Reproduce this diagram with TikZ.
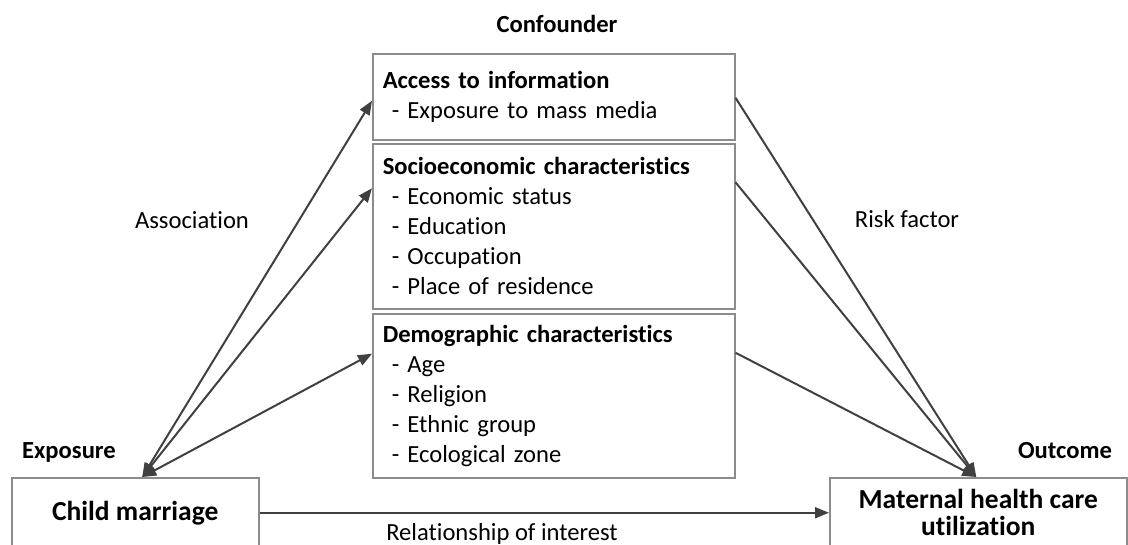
\documentclass[tikz,border=0pt]{standalone}
\usepackage{fontspec}
\setmainfont{Carlito}[Ligatures=NoCommon]
\usetikzlibrary{arrows.meta}

\definecolor{linegray}{HTML}{404040}
\definecolor{boxgray}{HTML}{8C8C8C}

\tikzset{
    factorbox/.style={draw=boxgray, line width=1.5pt, rectangle, anchor=north west,
        align=left, text width=342pt, inner xsep=10pt, inner ysep=0pt},
    endbox/.style={draw=boxgray, line width=1.5pt, rectangle, anchor=north west,
        align=center, minimum height=70pt, font=\fontsize{27.5}{27}\selectfont\bfseries},
    link/.style={draw=linegray, line width=2pt, >={Triangle[length=14pt, width=11pt]}},
    tag/.style={anchor=base, inner sep=0pt}
}

\begin{document}
\begin{tikzpicture}[x=1pt, y=-1pt, font=\fontsize{24.6}{30}\selectfont]
    % Fix the frame of the picture
    \useasboundingbox (0,0) rectangle (1128,544);
    \clip (0,0) rectangle (1128,544);

    % Confounder boxes
    \node[factorbox, minimum height=86pt] (access) at (372,53)
        {\textbf{Access to information}\\
         \hspace*{9pt}- Exposure to mass media};
    \node[factorbox, minimum height=165pt] (socio) at (372,143)
        {\textbf{Socioeconomic characteristics}\\
         \hspace*{9pt}- Economic status\\
         \hspace*{9pt}- Education\\
         \hspace*{9pt}- Occupation\\
         \hspace*{9pt}- Place of residence};
    \node[factorbox, minimum height=164pt] (demo) at (372,313)
        {\textbf{Demographic characteristics}\\
         \hspace*{9pt}- Age\\
         \hspace*{9pt}- Religion\\
         \hspace*{9pt}- Ethnic group\\
         \hspace*{9pt}- Ecological zone};

    % Exposure and outcome boxes
    \node[endbox, minimum width=247pt] (child) at (11,477) {Child marriage};
    \node[endbox, minimum width=297pt] (maternal) at (829,477) {Maternal health care\\utilization};

    % Labels
    \node[tag, font=\fontsize{24.6}{30}\selectfont\bfseries] (confounder) at (557,32) {Confounder};
    \node[tag, font=\fontsize{24.6}{30}\selectfont\bfseries] (exposure) at (69,458) {Exposure};
    \node[tag, font=\fontsize{24.6}{30}\selectfont\bfseries] (outcome) at (1065,458) {Outcome};
    \node[tag] (association) at (192,228) {Association};
    \node[tag] (risk) at (907,227) {Risk factor};
    \node[tag] (interest) at (502,540) {Relationship of interest};

    % Draw association arrows
    \draw[link, <->] ([xshift=7pt]child.north) -- ([yshift=-4pt]access.west);
    \draw[link, <->] ([xshift=7pt]child.north) -- ([yshift=38pt]socio.west);
    \draw[link, <->] ([xshift=7pt]child.north) -- ([yshift=42pt]demo.west);

    % Draw risk factor arrows
    \draw[link, ->] ([yshift=-1pt]access.east) -- ([xshift=-2pt]maternal.north);
    \draw[link, ->] ([yshift=44pt]socio.east) -- ([xshift=-2pt]maternal.north);
    \draw[link, ->] ([yshift=43pt]demo.east) -- ([xshift=-2pt]maternal.north);

    % Draw relationship of interest
    \draw[link, ->] (child) -- (maternal);
\end{tikzpicture}
\end{document}
